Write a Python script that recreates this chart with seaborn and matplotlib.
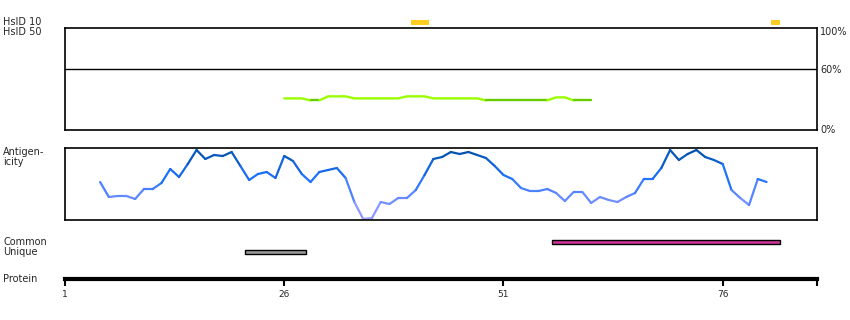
import numpy as np
import pandas as pd
import matplotlib
matplotlib.use("Agg")
import matplotlib.pyplot as plt
from matplotlib.colors import LinearSegmentedColormap, to_hex
import seaborn as sns

# ---------------- data ----------------
protein_length = 86.75
axis_ticks = [1, 26, 51, 76]

# HsID 10 identity hits (residue start, end)
hsid10_start = [41, 82]
hsid10_end = [42, 82]

# identity (%) line per residue
ident_res = list(range(26, 62))
ident_val = [31, 31, 31, 29, 29, 33, 33, 33, 31, 31, 31, 31, 31, 31,
             33, 33, 33, 31, 31, 31, 31, 31, 31, 29, 29, 29, 29, 29,
             29, 29, 29, 32, 32, 29, 29, 29]
ident_threshold = 30

# antigenicity per residue
ag_res = list(range(5, 82))
ag_val = [38, 23, 24, 24, 21, 31, 31, 37, 51, 43, 56, 70, 61, 65, 64, 68,
          54, 40, 46, 48, 42, 64, 59, 46, 38, 48, 50, 52, 42, 18, 1, 2,
          18, 16, 22, 22, 30, 45, 61, 63, 68, 66, 68, 65, 62, 54, 45, 41,
          32, 29, 29, 31, 27, 19, 28, 28, 17, 23, 20, 18, 23, 27, 41, 41,
          52, 70, 60, 66, 70, 63, 60, 56, 30, 22, 15, 41, 38]

# common / unique regions
region_rows = ["Common", "Unique"]
region_start = [57, 22]
region_end = [82, 28]
region_colors = ["#cc3399", "#999999"]

# ---------------- figure ----------------
sns.set_style("white")
plt.rcParams["font.family"] = ["DejaVu Sans"]

W, H = 850, 320
fig = plt.figure(figsize=(W / 100, H / 100), dpi=100)


def ax_px(x0, y0, x1, y1):
    return fig.add_axes([x0 / W, 1 - y1 / H, (x1 - x0) / W, (y1 - y0) / H])


def ftext(x, y, s, **kw):
    fig.text(x / W, 1 - y / H, s, fontsize=7, va="center", **kw)


def runs_frame(res, val, colors):
    """Group consecutive segments of equal colour into polylines."""
    rows, pal = [], {}
    run = 0
    cur = colors[0]
    pal[run] = cur
    rows.append((run, res[0], val[0]))
    for k in range(len(colors)):
        if colors[k] != cur:
            run += 1
            cur = colors[k]
            pal[run] = cur
            rows.append((run, res[k], val[k]))
        rows.append((run, res[k + 1], val[k + 1]))
    return pd.DataFrame(rows, columns=["seg", "res", "val"]), pal


XL = (1, protein_length)

# ---- HsID row ----
ax_h = ax_px(65, 17, 817, 37)
ax_h.set_xlim(*XL)
ax_h.set_ylim(1.5, -0.5)
for s, e in zip(hsid10_start, hsid10_end):
    ax_h.barh(0, e - s + 1, left=s - 0.5, height=0.5, color="#ffcc22", linewidth=0)
ax_h.axis("off")

# ---- identity panel ----
ax_i = ax_px(65, 28, 817, 130)
ax_i.set_xlim(*XL)
ax_i.set_ylim(0, 100)
ax_i.axhline(60, color="black", lw=1)
cols_i = []
for k in range(len(ident_res) - 1):
    low = ident_val[k] < ident_threshold and ident_val[k + 1] < ident_threshold
    cols_i.append("#66cc00" if low else "#99ff00")
df_i, pal_i = runs_frame(ident_res, ident_val, cols_i)
sns.lineplot(data=df_i, x="res", y="val", hue="seg", palette=pal_i,
             estimator=None, sort=False, legend=False, lw=1.7, ax=ax_i)
ax_i.set_xticks([]); ax_i.set_yticks([])
ax_i.set_xlabel(""); ax_i.set_ylabel("")
for sp in ax_i.spines.values():
    sp.set_color("black"); sp.set_linewidth(1.2); sp.set_visible(True)

# ---- antigenicity panel ----
ax_a = ax_px(65, 148, 817, 220)
ax_a.set_xlim(*XL)
ax_a.set_ylim(0, 72)
cmap = LinearSegmentedColormap.from_list(
    "ag", [(0, "#a3a3ff"), (0.3, "#6d8cff"), (0.6, "#1f73ff"), (1.0, "#0050a8")])
seg_rows = []
pal_a = {}
for k in range(len(ag_res) - 1):
    m = (ag_val[k] + ag_val[k + 1]) / 2 / 70
    pal_a[k] = to_hex(cmap(min(max(m, 0), 1)))
    seg_rows.append((k, ag_res[k], ag_val[k]))
    seg_rows.append((k, ag_res[k + 1], ag_val[k + 1]))
df_a = pd.DataFrame(seg_rows, columns=["seg", "res", "val"])
sns.lineplot(data=df_a, x="res", y="val", hue="seg", palette=pal_a,
             estimator=None, legend=False, lw=1.6, ax=ax_a,
             solid_capstyle="round")
ax_a.set_xticks([]); ax_a.set_yticks([])
ax_a.set_xlabel(""); ax_a.set_ylabel("")
for sp in ax_a.spines.values():
    sp.set_color("black"); sp.set_linewidth(1.2); sp.set_visible(True)

# ---- common / unique ----
ax_c = ax_px(65, 237, 817, 257)
ax_c.set_xlim(*XL)
ax_c.set_ylim(1.5, -0.5)
for i, (s, e, c) in enumerate(zip(region_start, region_end, region_colors)):
    ax_c.barh(i, e - s + 1, left=s - 0.5, height=0.45, color=c,
              edgecolor="black", linewidth=1)
ax_c.axis("off")

# ---- protein axis ----
ax_p = ax_px(65, 265, 817, 279)
ax_p.set_xlim(*XL)
ax_p.set_ylim(0, 1)
for k in ["top", "left", "right"]:
    ax_p.spines[k].set_visible(False)
ax_p.spines["bottom"].set_color("black")
ax_p.spines["bottom"].set_linewidth(3)
ax_p.set_yticks([])
ax_p.set_xticks(axis_ticks + [protein_length])
ax_p.set_xticklabels([str(t) for t in axis_ticks] + [""], fontsize=6.5)
ax_p.tick_params(axis="x", direction="out", length=5, width=1.5,
                 color="black", pad=3, bottom=True)
ax_p.patch.set_alpha(0)

# ---- labels ----
ftext(3, 22, "HsID 10")
ftext(3, 32, "HsID 50")
ftext(3, 152, "Antigen-")
ftext(3, 162, "icity")
ftext(3, 242, "Common")
ftext(3, 252, "Unique")
ftext(3, 279, "Protein")
ftext(820, 32, "100%")
ftext(820, 70, "60%")
ftext(820, 130, "0%")

fig.savefig("out.png", dpi=100, facecolor="white")
